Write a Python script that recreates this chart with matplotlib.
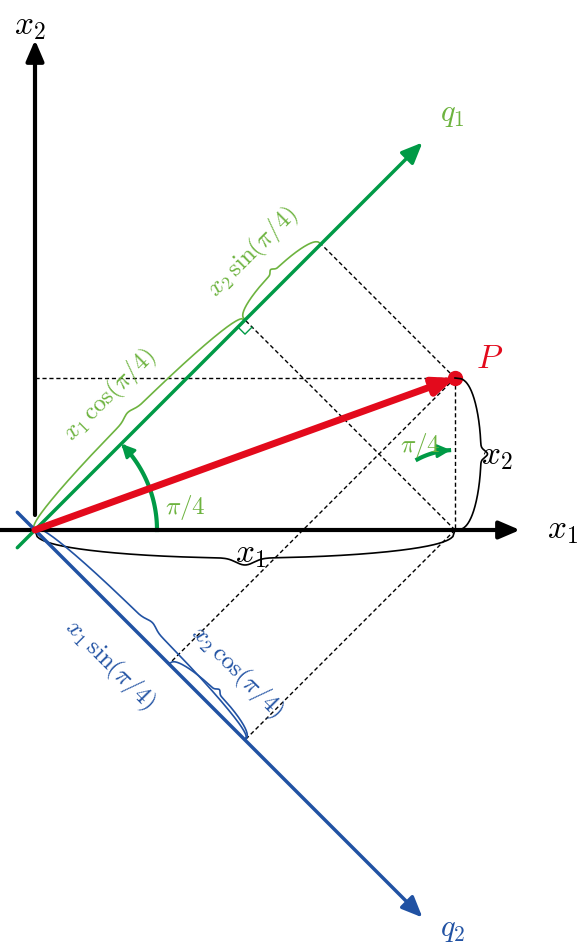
import numpy as np
import matplotlib
matplotlib.use("Agg")
import matplotlib.pyplot as plt

plt.rcParams['mathtext.fontset'] = 'cm'

# diagram quantities (relative units, y up)
P = (420.0, 152.0)
angle_deg = 45.0
q_len = 548.0
axis_x1 = (-35.0, 485.0)
axis_x2 = (-15.0, 490.0)

GREEN = '#009a46'
LGREEN = '#6db33f'
BLUE = '#2152a3'
RED = '#e30a1c'
O = (35.0, 530.0)

def px(u, v):
    return O[0] + u, O[1] - v

fig = plt.figure(figsize=(5.83, 9.49), dpi=100)
ax = fig.add_axes([0, 0, 1, 1])
ax.set_xlim(0, 583); ax.set_ylim(949, 0); ax.axis('off')

def arrow(a, b, color, lw, hw=9):
    ax.annotate('', xy=b, xytext=a,
                arrowprops=dict(arrowstyle='-|>,head_length=%.2f,head_width=%.2f' % (hw/10*1.4, hw/10*0.6),
                                color=color, lw=lw, shrinkA=0, shrinkB=0))

def line(a, b, **kw):
    ax.plot([a[0], b[0]], [a[1], b[1]], **kw)

# axes
arrow(px(axis_x1[0], 0), px(axis_x1[1], 0), 'black', 3)
arrow(px(0, -axis_x2[0]), px(0, axis_x2[1]), 'black', 3)
ax.text(*px(527, 0), r'$x_1$', fontsize=24, va='center', ha='center')
ax.text(*px(-5, 505), r'$x_2$', fontsize=24, va='center', ha='center')

c = np.cos(np.radians(angle_deg)); s = np.sin(np.radians(angle_deg))
# q axes
arrow(px(-25*c, -25*s), px(q_len*c, q_len*s), GREEN, 2.5)
arrow(px(-25*c, 25*s), px(q_len*c, -q_len*s), BLUE, 2.5)
ax.text(*px(q_len*c + 30, q_len*s + 28), r'$q_1$', fontsize=22, color=LGREEN, ha='center', va='center')
ax.text(*px(q_len*c + 30, -q_len*s - 12), r'$q_2$', fontsize=22, color=BLUE, ha='center', va='center')

# projections
x1, x2 = P
p1 = (x1*c + x2*s); a1 = x1*c
p2 = (x1*c - x2*s); a2 = x1*c
dash = dict(color='black', lw=1, ls=(0, (3, 2)))
line(px(0, x2), px(x1, x2), **dash)
line(px(x1, x2), px(x1, 0), **dash)
line(px(x1, x2), px(p1*c, p1*s), **dash)
line(px(x1, 0), px(a1*c, a1*s), **dash)
line(px(x1, x2), px(p2*c, -p2*s), **dash)
line(px(x1, 0), px(a2*c, -a2*s), **dash)
# right angle mark
r = 10
A = np.array([a1*c, a1*s]); d1 = np.array([c, s]); d2 = np.array([s, -c])
pts = [A + d2*r, A + d2*r - d1*r, A - d1*r]
ax.plot([px(*p)[0] for p in pts], [px(*p)[1] for p in pts], color=GREEN, lw=1)

# vector P
ax.annotate('', xy=px(x1, x2), xytext=px(0, 0),
            arrowprops=dict(arrowstyle='-|>,head_length=1.2,head_width=0.5', color=RED, lw=5, shrinkA=0, shrinkB=0))
ax.plot(*px(x1, x2), 'o', color=RED, ms=10)
ax.text(*px(x1 + 35, x2 + 20), r'$P$', fontsize=24, color=RED, ha='center', va='center')

# braces
def brace(a, b, depth, color, lw=1.2):
    a = np.array(a); b = np.array(b)
    t = np.linspace(0, 1, 200)
    d = b - a; n = np.array([-d[1], d[0]]) / np.linalg.norm(d)
    sh = np.sin(np.pi*t)**0.35 + 0.25*np.exp(-((t-0.5)/0.03)**2)
    pts = a[None] + t[:, None]*d[None] + n[None]*depth*sh[:, None]
    q = [px(*p) for p in pts]
    ax.plot([p[0] for p in q], [p[1] for p in q], color=color, lw=lw)

brace((0, 0), (x1, 0), -28, 'black')
brace((x1, x2), (x1, 0), 26, 'black')
ax.text(*px(x1/2 + 5, -23), r'$x_1$', fontsize=24, ha='center', va='center')
ax.text(*px(x1 + 42, 75), r'$x_2$', fontsize=24, ha='center', va='center')

brace((a1*c, a1*s), (0, 0), -14, LGREEN)
brace((p1*c, p1*s), (a1*c, a1*s), -14, LGREEN)
brace((0, 0), (a2*c, -a2*s), 14, BLUE)
brace((p2*c, -p2*s), (a2*c, -a2*s), 14, BLUE)

o = 30
ax.text(*px(a1*c/2 - o, a1*s/2 + o), r'$x_1\,\cos(\pi/4)$', fontsize=18, color=LGREEN, rotation=45, ha='center', va='center')
ax.text(*px((a1+p1)/2*c - o, (a1+p1)/2*s + o), r'$x_2\,\sin(\pi/4)$', fontsize=18, color=LGREEN, rotation=45, ha='center', va='center')
ax.text(*px(a2*c/2 - o, -a2*s/2 - o), r'$x_1\,\sin(\pi/4)$', fontsize=18, color=BLUE, rotation=-45, ha='center', va='center')
ax.text(*px((a2+p2)/2*c + o, -(a2+p2)/2*s + o), r'$x_2\,\cos(\pi/4)$', fontsize=18, color=BLUE, rotation=-45, ha='center', va='center')

# angle arcs
def arc(center, radius, th0, th1, color):
    th = np.radians(np.linspace(th0, th1, 60))
    pts = [px(center[0] + radius*np.cos(t), center[1] + radius*np.sin(t)) for t in th]
    ax.plot([p[0] for p in pts[:-3]], [p[1] for p in pts[:-3]], color=color, lw=3)
    ax.annotate('', xy=pts[-1], xytext=pts[-6],
                arrowprops=dict(arrowstyle='-|>,head_length=0.8,head_width=0.4', color=color, lw=2, shrinkA=0, shrinkB=0))

arc((0, 0), 122, 0, angle_deg, GREEN)
ax.text(*px(150, 22), r'$\pi/4$', fontsize=18, color=LGREEN, ha='center', va='center')
arc((x1, 0), 80, 118, 93, GREEN)
ax.text(*px(x1 - 35, 85), r'$\pi/4$', fontsize=18, color=LGREEN, ha='center', va='center')

fig.savefig('out.png', dpi=100)
